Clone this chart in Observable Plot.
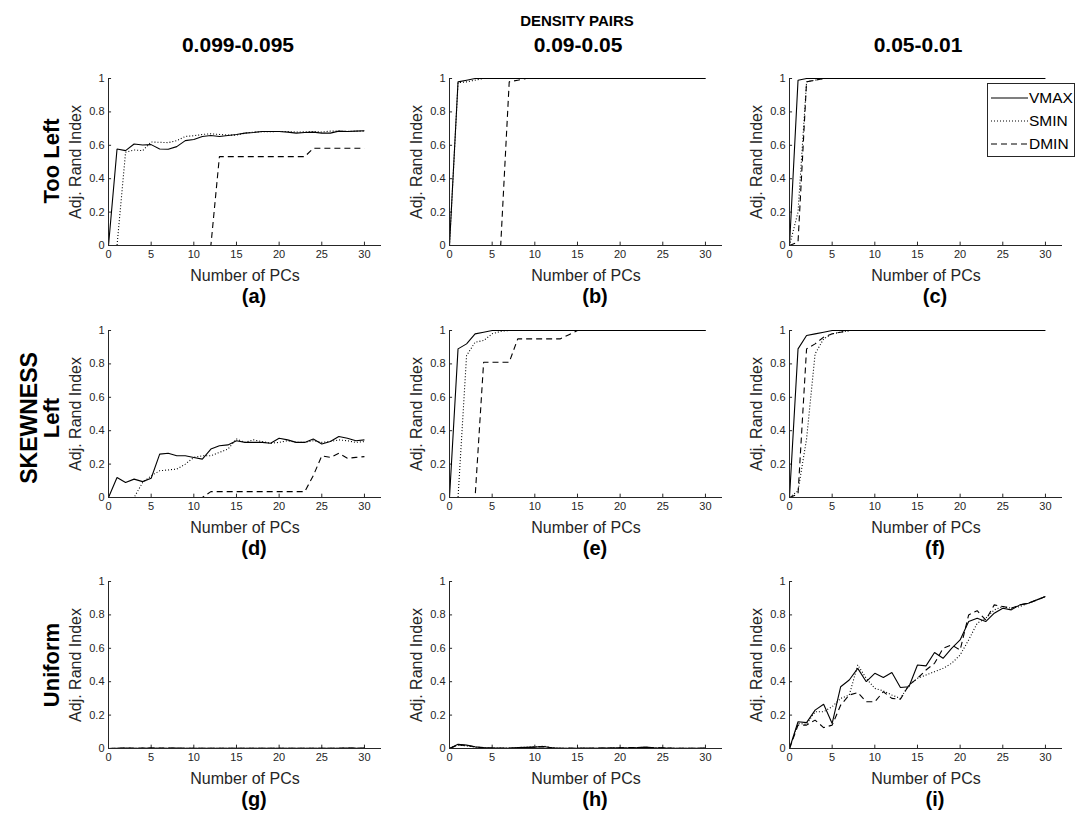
<!DOCTYPE html>
<html>
<head>
<meta charset="utf-8">
<script src="https://cdn.jsdelivr.net/npm/d3@7"></script>
<script src="https://cdn.jsdelivr.net/npm/@observablehq/plot@0.6"></script>
<style>
  html, body { margin: 0; padding: 0; background: #fff; }
  #fig { position: relative; width: 1080px; height: 823px; font-family: "Liberation Sans", Arial, Helvetica, sans-serif; overflow: hidden; }
  .lbl { position: absolute; white-space: nowrap; transform: translate(-50%, -50%); color: #000; font-weight: bold; line-height: 1; }
  .rot { transform: translate(-50%, -50%) rotate(-90deg); }
  .panel { position: absolute; }
  #legend { position: absolute; left: 987px; top: 83px; width: 88px; height: 74px; border: 1px solid #262626; background: #fff; box-sizing: border-box; }
</style>
</head>
<body>
<div id="fig"></div>
<script>
// ---------- data ----------
const pcs = [0,1,2,3,4,5,6,7,8,9,10,11,12,13,14,15,16,17,18,19,20,21,22,23,24,25,26,27,28,29,30];
const xTicks = [0,5,10,15,20,25,30];
const yTicks = [0,0.2,0.4,0.6,0.8,1];
const yTickLabels = ["0","0.2","0.4","0.6","0.8","1"];
const methods = ["VMAX","SMIN","DMIN"];
const columnTitles = ["0.099-0.095","0.09-0.05","0.05-0.01"];
const rowTitles = ["Too Left","Left","Uniform"];
const panelLabels = ["(a)","(b)","(c)","(d)","(e)","(f)","(g)","(h)","(i)"];

// (a) Too Left, 0.099-0.095
const aVMAX = [0,0.578,0.568,0.608,0.602,0.604,0.578,0.576,0.592,0.628,0.635,0.653,0.659,0.653,0.659,0.665,0.673,0.677,0.683,0.683,0.683,0.679,0.673,0.677,0.679,0.673,0.673,0.685,0.683,0.685,0.687];
const aSMIN = [0,0,0.558,0.572,0.568,0.62,0.618,0.616,0.628,0.653,0.657,0.665,0.669,0.665,0.661,0.661,0.673,0.679,0.681,0.681,0.683,0.683,0.679,0.681,0.683,0.679,0.685,0.685,0.683,0.685,0.685];
const aDMIN = [0,0,0,0,0,0,0,0,0,0,0,0,0,0.532,0.532,0.532,0.532,0.532,0.532,0.532,0.532,0.532,0.532,0.532,0.582,0.582,0.582,0.582,0.582,0.582,0.582];
// (b) Too Left, 0.09-0.05
const bVMAX = [0,0.98,0.99,1,1,1,1,1,1,1,1,1,1,1,1,1,1,1,1,1,1,1,1,1,1,1,1,1,1,1,1];
const bSMIN = [0,0.975,0.98,0.99,1,1,1,1,1,1,1,1,1,1,1,1,1,1,1,1,1,1,1,1,1,1,1,1,1,1,1];
const bDMIN = [0,0,0,0,0,0,0,0.98,0.99,1,1,1,1,1,1,1,1,1,1,1,1,1,1,1,1,1,1,1,1,1,1];
// (c) Too Left, 0.05-0.01
const cVMAX = [0,0.99,1,1,1,1,1,1,1,1,1,1,1,1,1,1,1,1,1,1,1,1,1,1,1,1,1,1,1,1,1];
const cSMIN = [0,0.2,0.98,0.99,1,1,1,1,1,1,1,1,1,1,1,1,1,1,1,1,1,1,1,1,1,1,1,1,1,1,1];
const cDMIN = [0,0.02,0.98,0.99,1,1,1,1,1,1,1,1,1,1,1,1,1,1,1,1,1,1,1,1,1,1,1,1,1,1,1];
// (d) Left, 0.099-0.095
const dVMAX = [0,0.12,0.09,0.11,0.095,0.115,0.26,0.265,0.25,0.25,0.24,0.23,0.29,0.31,0.315,0.34,0.33,0.33,0.33,0.325,0.355,0.345,0.33,0.33,0.35,0.32,0.335,0.365,0.355,0.34,0.345];
const dSMIN = [0,0,0,0,0.09,0.13,0.16,0.165,0.17,0.2,0.24,0.25,0.25,0.27,0.29,0.35,0.33,0.345,0.335,0.325,0.33,0.34,0.33,0.33,0.34,0.33,0.335,0.345,0.34,0.33,0.335];
const dDMIN = [0,0,0,0,0,0,0,0,0,0,0,0,0.035,0.035,0.035,0.035,0.035,0.035,0.035,0.035,0.035,0.035,0.035,0.035,0.13,0.25,0.24,0.265,0.235,0.24,0.245];
// (e) Left, 0.09-0.05
const eVMAX = [0,0.89,0.92,0.98,0.99,1,1,1,1,1,1,1,1,1,1,1,1,1,1,1,1,1,1,1,1,1,1,1,1,1,1];
const eSMIN = [0,0,0.85,0.93,0.94,0.98,0.995,1,1,1,1,1,1,1,1,1,1,1,1,1,1,1,1,1,1,1,1,1,1,1,1];
const eDMIN = [0,0,0,0,0.81,0.81,0.81,0.81,0.95,0.95,0.95,0.95,0.95,0.95,0.975,1,1,1,1,1,1,1,1,1,1,1,1,1,1,1,1];
// (f) Left, 0.05-0.01
const fVMAX = [0,0.89,0.97,0.98,0.99,1,1,1,1,1,1,1,1,1,1,1,1,1,1,1,1,1,1,1,1,1,1,1,1,1,1];
const fSMIN = [0,0.04,0.35,0.86,0.95,0.98,0.99,1,1,1,1,1,1,1,1,1,1,1,1,1,1,1,1,1,1,1,1,1,1,1,1];
const fDMIN = [0,0.02,0.89,0.92,0.96,0.98,0.99,1,1,1,1,1,1,1,1,1,1,1,1,1,1,1,1,1,1,1,1,1,1,1,1];
// (g) Uniform, 0.099-0.095
const gVMAX = [0,0.001,0.002,0.001,0.001,0.002,0.001,0.001,0.002,0.001,0.001,0.001,0.001,0.001,0.001,0.001,0.001,0.001,0.001,0.001,0.001,0.001,0.001,0.001,0.001,0.001,0.001,0.001,0.002,0.001,0.002];
const gSMIN = [0,0.001,0.001,0.001,0.002,0.001,0.001,0.002,0.001,0.001,0.001,0.001,0.001,0.001,0.001,0.001,0.001,0.001,0.001,0.001,0.001,0.001,0.001,0.001,0.001,0.001,0.001,0.001,0.001,0.002,0.001];
const gDMIN = [0,0.001,0.003,0.001,0.002,0.003,0.002,0.002,0.002,0.001,0.001,0.001,0.001,0.001,0.001,0.001,0.001,0.001,0.001,0.001,0.001,0.001,0.001,0.001,0.001,0.001,0.001,0.001,0.003,0.002,0.001];
// (h) Uniform, 0.09-0.05
const hVMAX = [0,0.025,0.02,0.01,0.005,0.002,0.002,0.001,0.005,0.007,0.008,0.012,0.004,0.001,0.001,0.001,0.002,0.001,0.002,0.003,0.004,0.003,0.005,0.008,0.004,0.003,0.001,0.001,0.001,0.001,0.002];
const hSMIN = [0,0.02,0.015,0.008,0.004,0.003,0.002,0.002,0.006,0.008,0.01,0.014,0.005,0.002,0.001,0.002,0.002,0.001,0.002,0.004,0.005,0.004,0.006,0.007,0.005,0.004,0.002,0.001,0.001,0.001,0.001];
const hDMIN = [0,0.022,0.018,0.01,0.003,0.002,0.001,0.002,0.004,0.006,0.009,0.01,0.003,0.001,0.002,0.001,0.001,0.002,0.003,0.003,0.004,0.005,0.006,0.006,0.003,0.004,0.002,0.001,0.001,0.001,0.001];
// (i) Uniform, 0.05-0.01
const iVMAX = [0,0.16,0.155,0.23,0.265,0.15,0.37,0.41,0.48,0.40,0.45,0.425,0.455,0.365,0.37,0.50,0.495,0.575,0.54,0.60,0.65,0.76,0.78,0.76,0.81,0.84,0.83,0.86,0.87,0.89,0.91];
const iSMIN = [0,0.15,0.145,0.22,0.22,0.25,0.30,0.32,0.50,0.42,0.36,0.345,0.32,0.30,0.38,0.42,0.44,0.46,0.48,0.51,0.56,0.65,0.75,0.78,0.83,0.85,0.84,0.85,0.87,0.89,0.91];
const iDMIN = [0,0.14,0.14,0.17,0.125,0.14,0.26,0.32,0.335,0.28,0.28,0.34,0.30,0.295,0.38,0.42,0.47,0.51,0.60,0.62,0.59,0.80,0.825,0.77,0.86,0.85,0.84,0.86,0.87,0.89,0.91];

const panels = [
  [aVMAX,aSMIN,aDMIN],[bVMAX,bSMIN,bDMIN],[cVMAX,cSMIN,cDMIN],
  [dVMAX,dSMIN,dDMIN],[eVMAX,eSMIN,eDMIN],[fVMAX,fSMIN,fDMIN],
  [gVMAX,gSMIN,gDMIN],[hVMAX,hSMIN,hDMIN],[iVMAX,iSMIN,iDMIN]
];

// ---------- styling ----------
const FONT = '"Liberation Sans", Arial, Helvetica, sans-serif';
const AX = "#262626";
const dash = {VMAX: null, SMIN: "1,2", DMIN: "6,4"};
const colLeft = [48, 389, 729];     // svg left edges
const rowTop = [68, 320, 571];      // svg top edges
const ML = 60, MR = 7, MT = 10, MB = 70, W = 340, H = 247;

const fig = document.getElementById("fig");

function makePanel(series, label) {
  const rows = [];
  methods.forEach((m, k) => series[k].forEach((v, j) => rows.push({pc: pcs[j], v, m})));
  const lineMarks = methods.map(m => Plot.line(rows.filter(r => r.m === m), {
    x: "pc", y: "v", stroke: "#000", strokeWidth: 1.1,
    strokeDasharray: dash[m], strokeLinejoin: "miter", strokeLinecap: "butt"
  }));
  return Plot.plot({
    width: W, height: H,
    marginLeft: ML, marginRight: MR, marginTop: MT, marginBottom: MB,
    x: {domain: [0, 32]},
    y: {domain: [0, 1]},
    style: {background: "transparent", maxWidth: "none", overflow: "visible", fontFamily: FONT, color: AX},
    marks: [
      Plot.axisX({ticks: xTicks, tickSize: 0, tickPadding: 5, fontSize: 11, fill: AX, label: null, tickFormat: d => String(d)}),
      Plot.axisY({ticks: yTicks, tickSize: 0, tickPadding: 4, fontSize: 11, fill: AX, label: null,
                  tickFormat: d => yTickLabels[yTicks.indexOf(d)]}),
      Plot.ruleX(xTicks, {x: d => d, y1: 0, y2: 0.02, stroke: AX, strokeWidth: 1}),
      Plot.ruleY(yTicks, {y: d => d, x1: 0, x2: 0.36, stroke: AX, strokeWidth: 1}),
      ...lineMarks,
      Plot.ruleY([0], {stroke: AX, strokeWidth: 1}),
      Plot.ruleX([0], {stroke: AX, strokeWidth: 1}),
      Plot.text(["Adj. Rand Index"], {frameAnchor: "left", textAnchor: "middle", lineAnchor: "middle", dx: -33, rotate: -90, fontSize: 16, fill: AX}),
      Plot.text(["Number of PCs"], {frameAnchor: "bottom", textAnchor: "middle", lineAnchor: "middle", dy: 30, fontSize: 16, fill: AX}),
      Plot.text([label], {frameAnchor: "bottom", textAnchor: "middle", lineAnchor: "middle", dx: 9, dy: 51, fontSize: 20, fontWeight: "bold", fill: "#000"})
    ]
  });
}

panels.forEach((s, idx) => {
  const r = Math.floor(idx / 3), c = idx % 3;
  const wrap = document.createElement("div");
  wrap.className = "panel";
  wrap.style.left = colLeft[c] + "px";
  wrap.style.top = rowTop[r] + "px";
  wrap.appendChild(makePanel(s, panelLabels[idx]));
  fig.appendChild(wrap);
});

function addLabel(text, x, y, size, rotate) {
  const d = document.createElement("div");
  d.className = "lbl" + (rotate ? " rot" : "");
  d.textContent = text;
  d.style.left = x + "px";
  d.style.top = y + "px";
  d.style.fontSize = size + "px";
  fig.appendChild(d);
}
addLabel("DENSITY PAIRS", 577, 20, 15, false);
const colCenters = [238, 578, 918];
columnTitles.forEach((t, i) => addLabel(t, colCenters[i], 44, 21, false));
const rowCenters = [161, 418, 665];
rowTitles.forEach((t, i) => addLabel(t, 52, rowCenters[i], 22, true));
addLabel("SKEWNESS", 29, 418, 23, true);

// legend
const leg = document.createElement("div");
leg.id = "legend";
const ns = "http://www.w3.org/2000/svg";
const lsvg = document.createElementNS(ns, "svg");
lsvg.setAttribute("width", 86); lsvg.setAttribute("height", 72);
lsvg.style.display = "block";
lsvg.style.overflow = "visible";
methods.forEach((m, i) => {
  const y = 14 + i * 23;
  const ln = document.createElementNS(ns, "line");
  ln.setAttribute("x1", 3); ln.setAttribute("x2", 40);
  ln.setAttribute("y1", y); ln.setAttribute("y2", y);
  ln.setAttribute("stroke", "#000"); ln.setAttribute("stroke-width", 1.1);
  if (dash[m]) ln.setAttribute("stroke-dasharray", dash[m]);
  lsvg.appendChild(ln);
  const tx = document.createElementNS(ns, "text");
  tx.setAttribute("x", 41); tx.setAttribute("y", y);
  tx.setAttribute("dy", "0.35em");
  tx.setAttribute("font-size", 15.5);
  tx.setAttribute("font-family", FONT);
  tx.setAttribute("fill", "#000");
  tx.textContent = m;
  lsvg.appendChild(tx);
});
leg.appendChild(lsvg);
fig.appendChild(leg);
</script>
</body>
</html>
